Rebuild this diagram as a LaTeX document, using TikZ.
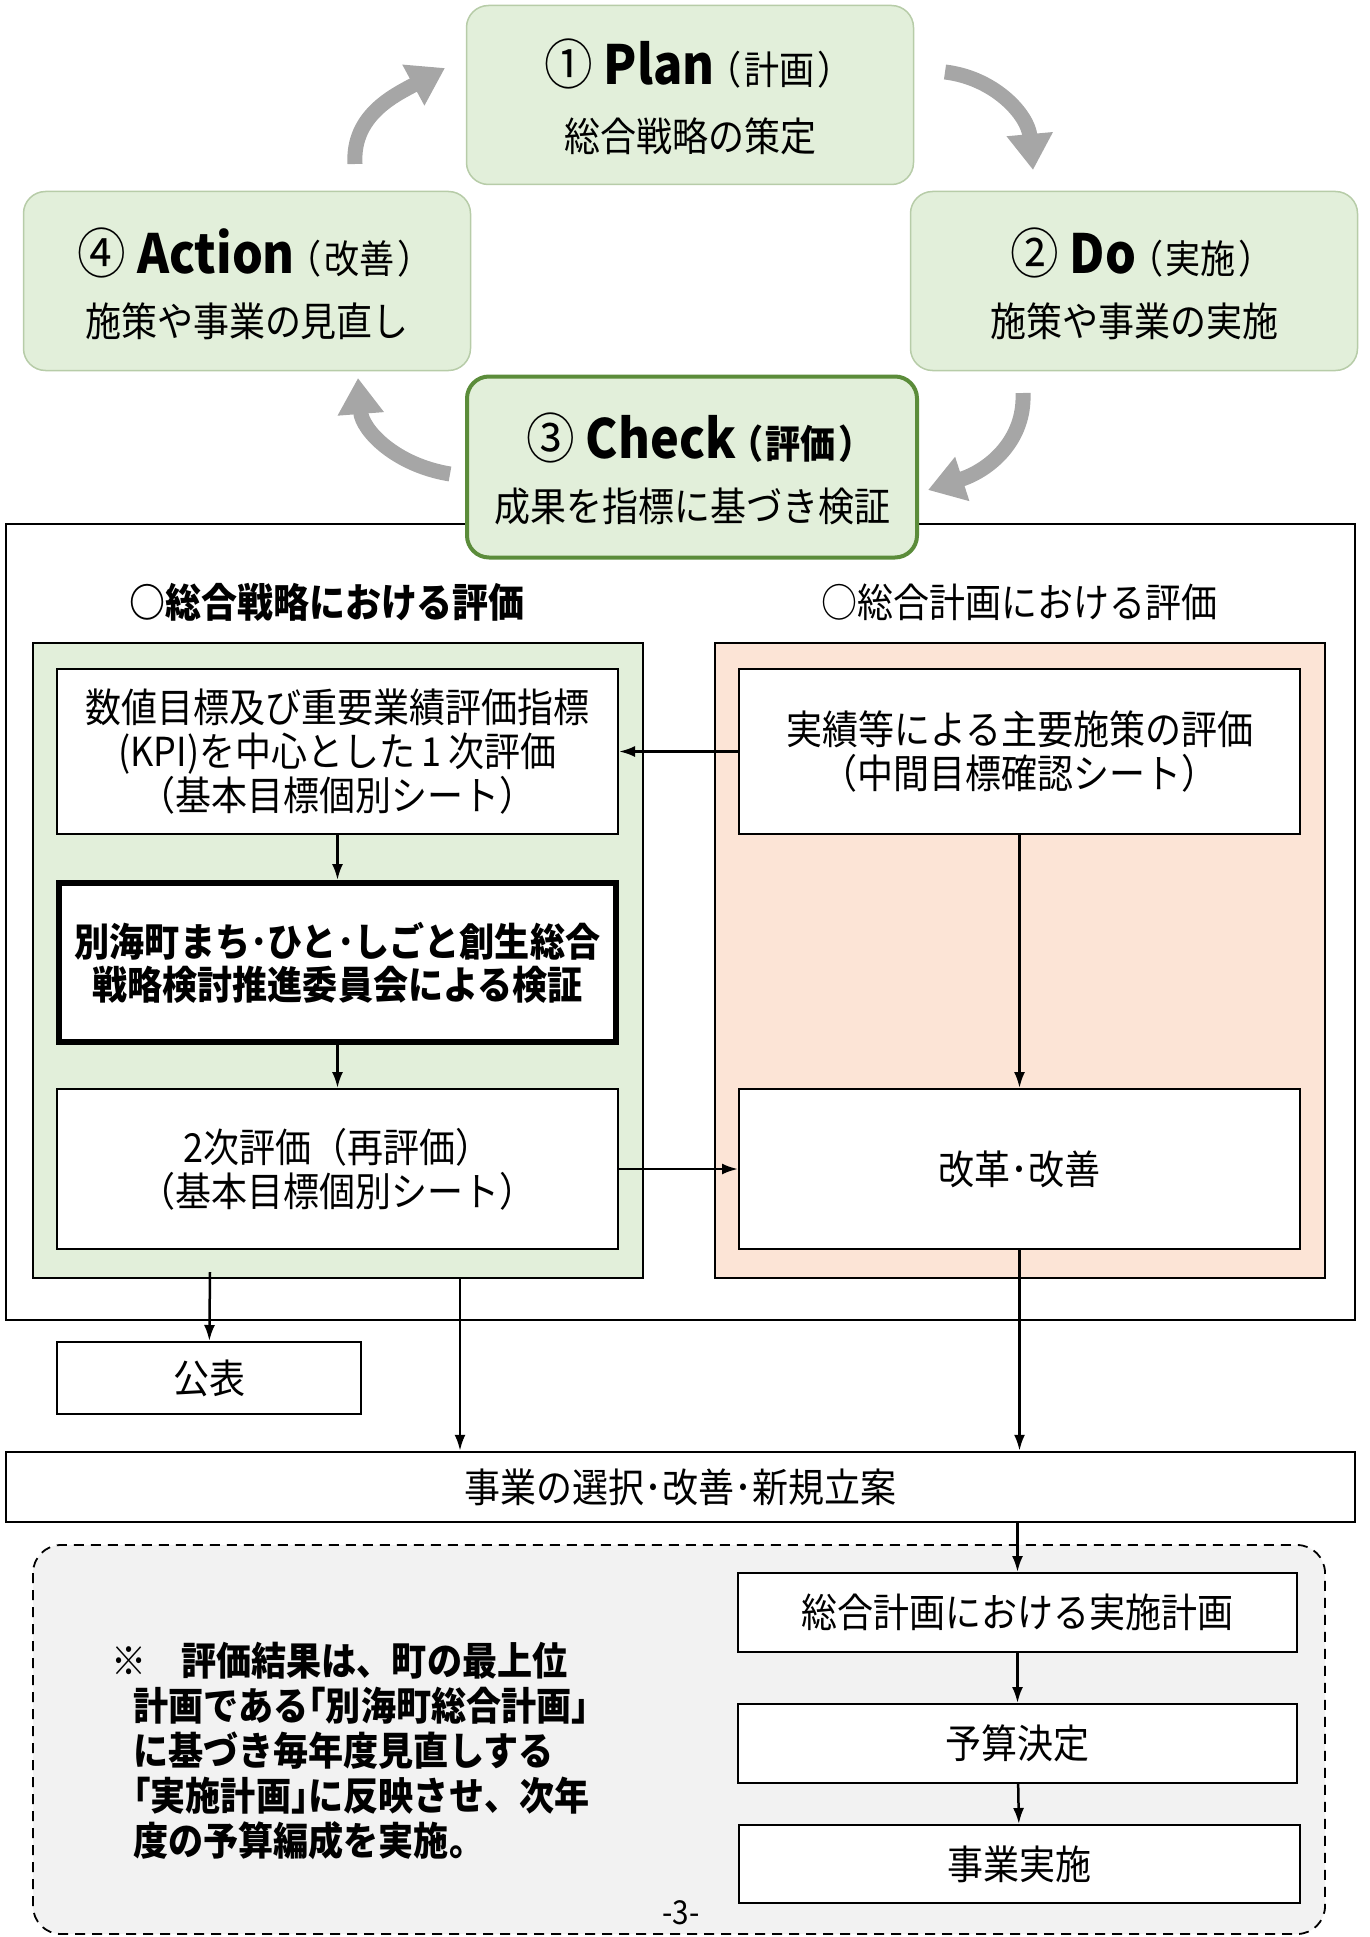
\documentclass[tikz,border=0pt]{standalone}
\usepackage{fontspec}
\setmainfont{Noto Sans CJK JP}[FakeStretch=0.9]
\usetikzlibrary{arrows.meta}
\definecolor{cycgreen}{HTML}{E2EFDA}
\definecolor{cycedge}{HTML}{B7CCA8}
\definecolor{chkedge}{HTML}{5B8C3A}
\definecolor{pnlpink}{HTML}{FCE4D6}
\definecolor{notegray}{HTML}{F2F2F2}
\definecolor{arrgray}{HTML}{A6A6A6}
\newcommand\paren[1]{{\fontsize{39}{41}\selectfont\addfontfeature{RawFeature=+palt}\hspace{8pt}（\hspace{4pt}#1\hspace{4pt}）}}

\begin{document}
\begin{tikzpicture}[x=1pt,y=-1pt,font=\fontsize{40}{44}\selectfont,
  cyc/.style={draw=cycedge,line width=1.5pt,fill=cycgreen,rounded corners=22pt,minimum width=447pt,minimum height=179pt},
  box/.style={draw,line width=2pt,fill=white,align=center,minimum width=561pt,minimum height=165pt},
  panel/.style={draw,line width=2pt,minimum width=610pt,minimum height=635pt},
  arr/.style={line width=2.5pt,-{Latex[length=16pt,width=11pt]}},
  cycarr/.style={arrgray,line width=15pt,-{Triangle[length=36pt,width=44pt]}},
  ttl/.style={font=\fontsize{54}{60}\selectfont}]
\useasboundingbox (0,0) rectangle (1369,1937);
\draw[cycarr] (355,164) .. controls (352,115) and (395,95) .. (445,68);
\draw[cycarr] (945,72) .. controls (995,78) and (1028,115) .. (1033,170);
\draw[cycarr] (1023,393) .. controls (1025,440) and (990,470) .. (928,490);
\draw[cycarr] (450,474) .. controls (395,465) and (362,430) .. (358,378);
\node[cyc] (plan) at (690,95) {};
\node[ttl] at ([yshift=31pt]plan.center) {① \textbf{Plan}\paren{計画}};
\node at ([yshift=-41pt]plan.center) {総合戦略の策定};
\node[cyc] (do) at (1134,281) {};
\node[ttl] at ([yshift=28pt]do.center) {② \textbf{Do}\paren{実施}};
\node at ([yshift=-40pt]do.center) {施策や事業の実施};
\node[cyc] (act) at (247,281) {};
\node[ttl] at ([yshift=28pt]act.center) {④ \textbf{Action}\paren{改善}};
\node at ([yshift=-40pt]act.center) {施策や事業の見直し};
\draw[line width=2.5pt] (6,524) rectangle (1355,1320);
\node[cyc,draw=chkedge,line width=4pt,minimum width=450pt,minimum height=181pt] (chk) at (692,467) {};
\node[ttl] at ([yshift=29pt]chk.center) {③ \textbf{Check}{\bfseries\paren{評価}}};
\node at ([yshift=-39pt]chk.center) {成果を指標に基づき検証};
\node[font=\fontsize{40}{44}\selectfont\bfseries] (lhead) at (327,602) {○総合戦略における評価};
\node (rhead) at (1019,602) {○総合計画における評価};
\node[panel,fill=cycgreen] (lpanel) at (338,960.5) {};
\node[panel,fill=pnlpink] (rpanel) at (1020,960.5) {};
\node[box] (kpi) at (337.5,751.5) {数値目標及び重要業績評価指標\\(KPI)を中心とした\,1\,次評価\\（基本目標個別シート）};
\node[box,line width=6pt,minimum width=557pt,minimum height=159pt,font=\fontsize{39}{43}\selectfont\bfseries] (iinkai) at (337.5,962.5) {別海町まち･ひと･しごと創生総合\\戦略検討推進委員会による検証};
\node[box,minimum height=160pt] (niji) at (337.5,1169) {2次評価（再評価）\\（基本目標個別シート）};
\node[box] (jisseki) at (1019.5,751.5) {実績等による主要施策の評価\\（中間目標確認シート）};
\node[box,minimum height=160pt] (kaikaku) at (1019.5,1169) {改革･改善};
\node[draw,line width=2pt,minimum width=304pt,minimum height=72pt] (kohyo) at (209,1378) {公表};
\node[draw,line width=2.5pt,minimum width=1349pt,minimum height=70pt] (sel) at (680.5,1487) {事業の選択･改善･新規立案};
\draw[dash pattern=on 10pt off 7pt,line width=1.8pt,fill=notegray,rounded corners=28pt] (33,1545) rectangle (1325,1934);
\node[box,minimum width=559pt,minimum height=79pt] (keikaku) at (1017.5,1612.5) {総合計画における実施計画};
\node[box,minimum width=559pt,minimum height=79pt] (yosan) at (1017.5,1743.5) {予算決定};
\node[box,minimum height=78pt] (jigyo) at (1019.5,1864) {事業実施};
\node[anchor=north west,align=left,inner sep=0pt,font=\fontsize{39}{45}\selectfont\bfseries] (note) at (111,1642) {※　評価結果は、町の最上位\\\hspace*{22pt}計画である｢別海町総合計画｣\\\hspace*{22pt}に基づき毎年度見直しする\\\hspace*{22pt}｢実施計画｣に反映させ、次年\\\hspace*{22pt}度の予算編成を実施。};
\node[font=\fontsize{33}{36}\selectfont] (page) at (681,1913) {-3-};
\coordinate (pub) at (210,1272);
\coordinate (lout) at (460,1278);
\draw[arr] (jisseki) -- (kpi);
\draw[arr] (kpi) -- (iinkai);
\draw[arr] (iinkai) -- (niji);
\draw[arr] (niji) -- (kaikaku);
\draw[arr] (jisseki) -- (kaikaku);
\draw[arr] (pub) -- (kohyo);
\draw[arr] (lout) -- (lout |- sel.north);
\draw[arr] (kaikaku) -- (kaikaku |- sel.north);
\draw[arr] (sel.south -| keikaku) -- (keikaku);
\draw[arr] (keikaku) -- (yosan);
\draw[arr] (yosan) -- (jigyo);
\end{tikzpicture}
\end{document}
